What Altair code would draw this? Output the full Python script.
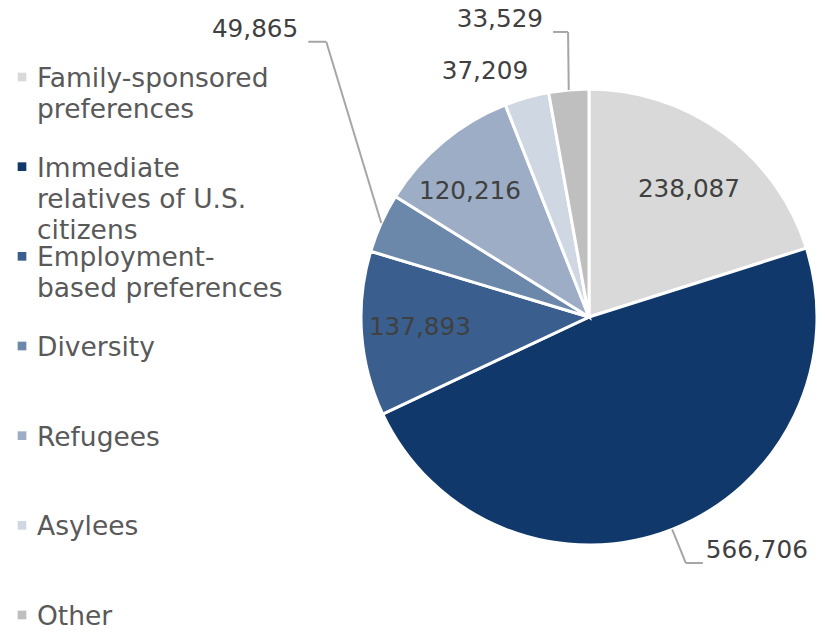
import altair as alt
import pandas as pd

# ---- data ----
categories = [
    "Family-sponsored preferences",
    "Immediate relatives of U.S. citizens",
    "Employment-based preferences",
    "Diversity",
    "Refugees",
    "Asylees",
    "Other",
]
values = [238087, 566706, 137893, 49865, 120216, 37209, 33529]
legend_labels = [
    "Family-sponsored\npreferences",
    "Immediate\nrelatives of U.S.\ncitizens",
    "Employment-\nbased preferences",
    "Diversity",
    "Refugees",
    "Asylees",
    "Other",
]
colors = ["#d9d9d9", "#10386b", "#3a5f8e", "#6b87a9", "#9dadc6", "#cfd7e2", "#bfbfbf"]

# ---- label layout (placement of value labels relative to slice mid-angle) ----
label_mode = ["in", "right", "in", "left", "in", "in", "left"]
label_r = [161.6, 264.4, 169.4, 380.5, 172.6, 265.8, 285.8]
label_shift = [2.0, -0.1, 0.55, 22.0, -3.8, -7.2, 0.9]
label_tail = [0, 17, 0, -18, 0, 0, -15]

CX, CY, R = 581, 309, 228
FONT = "DejaVu Sans"

df = pd.DataFrame({
    "idx": list(range(len(categories))),
    "category": categories,
    "legend": legend_labels,
    "value": values,
    "mode": label_mode,
    "lr": label_r,
    "shift": label_shift,
    "tail": label_tail,
})

base = alt.Chart(df)

color = alt.Color("category:N", scale=alt.Scale(domain=categories, range=colors), legend=None)

pie = base.mark_arc(outerRadius=R, stroke="white", strokeWidth=3).encode(
    theta=alt.Theta("value:Q", stack=True),
    color=color,
    order=alt.Order("idx:Q"),
    x=alt.value(CX),
    y=alt.value(CY),
)

geo = base.transform_window(
    cum="sum(value)", sort=[alt.SortField("idx")], frame=[None, 0]
).transform_joinaggregate(
    total="sum(value)"
).transform_calculate(
    mid="(datum.cum - datum.value/2) / datum.total * 360"
).transform_calculate(
    mrad="datum.mid * PI / 180",
    arad="(datum.mid + datum.shift) * PI / 180",
).transform_calculate(
    ex=f"{CX} + {R} * sin(datum.mrad)",
    ey=f"{CY} - {R} * cos(datum.mrad)",
    px=f"{CX} + datum.lr * sin(datum.arad)",
    py=f"{CY} - datum.lr * cos(datum.arad)",
).transform_calculate(
    tx="datum.px + datum.tail",
    lx="datum.px + datum.tail + (datum.tail < 0 ? -10 : 3)",
    ly="datum.py - 12",
)

leaders = geo.transform_filter("datum.tail != 0")
seg1 = leaders.mark_rule(color="#a6a6a6", strokeWidth=2).encode(
    x=alt.X("ex:Q", scale=None), y=alt.Y("ey:Q", scale=None),
    x2="px:Q", y2="py:Q",
)
seg2 = leaders.mark_rule(color="#a6a6a6", strokeWidth=2).encode(
    x=alt.X("px:Q", scale=None), y=alt.Y("py:Q", scale=None),
    x2="tx:Q", y2="py:Q",
)

txt_style = dict(font=FONT, fontSize=24.7, color="#404040", baseline="middle")
lab_in = geo.transform_filter("datum.mode == 'in'").mark_text(align="center", **txt_style).encode(
    x=alt.X("px:Q", scale=None), y=alt.Y("py:Q", scale=None),
    text=alt.Text("value:Q", format=","),
)
lab_left = geo.transform_filter("datum.mode == 'left'").mark_text(align="right", **txt_style).encode(
    x=alt.X("lx:Q", scale=None), y=alt.Y("ly:Q", scale=None),
    text=alt.Text("value:Q", format=","),
)
lab_right = geo.transform_filter("datum.mode == 'right'").mark_text(align="left", **txt_style).encode(
    x=alt.X("lx:Q", scale=None), y=alt.Y("ly:Q", scale=None),
    text=alt.Text("value:Q", format=","),
)

ly = alt.Y("category:N", sort=categories, axis=None,
           scale=alt.Scale(type="point", range=[79, 617], padding=0))
leg_marks = base.mark_square(size=75, opacity=1, yOffset=-10).encode(
    x=alt.value(14), y=ly, color=color,
)
leg_text = base.mark_text(
    align="left", baseline="alphabetic", font=FONT, fontSize=26.5,
    color="#595959", lineBreak="\n", lineHeight=31,
).encode(
    x=alt.value(29), y=ly, text="legend:N",
)

chart = alt.layer(
    pie, seg1, seg2, lab_in, lab_left, lab_right, leg_marks, leg_text
).resolve_scale(
    x="independent", y="independent"
).properties(
    width=809, height=618, padding=0, autosize="none",
).configure_view(stroke=None)

chart.save("out.html", embed_options={"renderer": "svg", "actions": False})
